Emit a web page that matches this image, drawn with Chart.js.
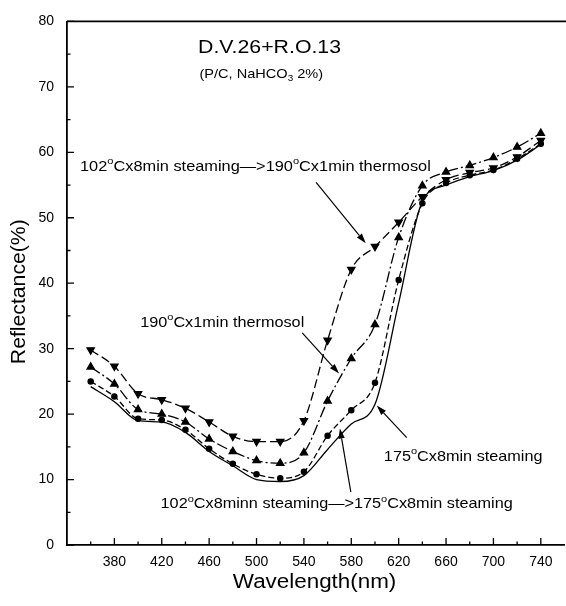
<!DOCTYPE html>
<html><head><meta charset="utf-8">
<script src="https://cdn.jsdelivr.net/npm/chart.js@4.4.1/dist/chart.umd.min.js"></script>
<style>
html,body{margin:0;padding:0;background:#fff;overflow:hidden;width:566px;height:606px}
#wrap{width:570px;height:606px}
</style></head>
<body><div id="wrap"><canvas id="c" width="570" height="606"></canvas></div>
<script>
// ---- data ----
const wavelengths = [360,380,400,420,440,460,480,500,520,540,560,580,600,620,640,660,680,700,720,740];
// 102°C x 8min steaming -> 190°C x 1min thermosol (inverted triangles)
const steamThermosol = [29.8,27.3,23.1,22.2,20.9,18.8,16.6,15.8,15.8,19.0,31.3,42.1,45.6,49.3,53.2,55.8,56.9,57.6,59.3,61.8];
// 190°C x 1min thermosol (triangles)
const thermosol = [27.2,24.6,20.7,20.0,18.8,16.2,14.3,12.9,12.5,14.1,22.0,28.5,33.7,47.0,54.9,57.0,58.0,59.2,60.8,62.9];
// 102°C x 8minn steaming -> 175°C x 8min steaming (dots)
const steamSteam = [25.0,22.7,19.3,19.1,17.6,14.7,12.4,10.8,10.2,11.2,16.7,20.6,24.8,40.5,52.2,55.3,56.5,57.3,59.0,61.3];
// 175°C x 8min steaming (solid line)
const steam175 = [24.2,21.9,19.0,18.8,17.2,14.3,12.1,10.0,9.7,10.6,14.6,18.5,21.5,37.0,52.5,55.0,56.3,57.2,58.8,61.2];

const xTickValues = [380,420,460,500,540,580,620,660,700,740];
const xMinorValues = [360,400,440,480,520,560,600,640,680,720];
const yTickValues = [0,10,20,30,40,50,60,70,80];
const yMinorValues = [5,15,25,35,45,55,65,75];

const chartTitle = 'D.V.26+R.O.13';
const xTitle = 'Wavelength(nm)';
const yTitle = 'Reflectance(%)';

// ---- annotations (anchored in data units) ----
const FONT = '"Liberation Sans", Arial, sans-serif';
const STRETCH = 1.12;
const texts = [
  {segs:[[chartTitle]], x:511, y:76.0, size:19, align:'center'},
  {segs:[['(P/C, NaHCO'],['3','sub'],[' 2%)']], x:504, y:71.9, size:13, align:'center'},
  {segs:[['102'],['o','sup'],['Cx8min steaming—>190'],['o','sup'],['Cx1min thermosol']], x:351, y:57.8, size:14.6, align:'left'},
  {segs:[['190'],['o','sup'],['Cx1min thermosol']], x:540.3, y:33.9, size:14.5, align:'right'},
  {segs:[['175'],['o','sup'],['Cx8min steaming']], x:607.5, y:13.5, size:14.5, align:'left'},
  {segs:[['102'],['o','sup'],['Cx8minn steaming—>175'],['o','sup'],['Cx8min steaming']], x:419, y:6.2, size:14.5, align:'left'}
];
const arrows = [
  {from:[550.3,55.4], to:[592.2,46.1]},
  {from:[538.6,32.4], to:[569.7,26.2]},
  {from:[626.8,16.4], to:[601.5,21.3]},
  {from:[579.6,8.1], to:[570.4,17.8]}
];

function pts(arr){ return wavelengths.map((w,i)=>({x:w, y:arr[i]})); }

function segWidth(ctx, segs, size){
  let w = 0;
  for (const s of segs){
    const fs = s[1] ? size*0.68 : size;
    ctx.font = fs + 'px ' + FONT;
    w += ctx.measureText(s[0]).width;
  }
  return w;
}
function drawRich(ctx, segs, px, py, size, align){
  ctx.save();
  ctx.translate(px, py);
  ctx.scale(STRETCH, 1);
  const w = segWidth(ctx, segs, size);
  let cx = align==='center' ? -w/2 : align==='right' ? -w : 0;
  ctx.textBaseline = 'middle';
  ctx.textAlign = 'left';
  ctx.fillStyle = '#000';
  for (const s of segs){
    let fs = size, dy = 0;
    if (s[1]==='sup'){ fs = size*0.68; dy = -size*0.38; }
    if (s[1]==='sub'){ fs = size*0.68; dy = size*0.3; }
    ctx.font = fs + 'px ' + FONT;
    ctx.fillText(s[0], cx, dy);
    cx += ctx.measureText(s[0]).width;
  }
  ctx.restore();
}

const deco = {
  id:'deco',
  afterDraw(chart){
    const ctx = chart.ctx, a = chart.chartArea, xs = chart.scales.x, ys = chart.scales.y;
    ctx.save();
    ctx.strokeStyle = '#000';
    ctx.lineWidth = 1.6;
    // top border
    ctx.beginPath(); ctx.moveTo(a.left, a.top); ctx.lineTo(a.right+4, a.top); ctx.stroke();
    // inward ticks
    ctx.lineWidth = 1.3;
    ctx.beginPath();
    for (const v of xTickValues){ const p = xs.getPixelForValue(v); ctx.moveTo(p, a.bottom); ctx.lineTo(p, a.bottom-7); }
    for (const v of xMinorValues){ const p = xs.getPixelForValue(v); ctx.moveTo(p, a.bottom); ctx.lineTo(p, a.bottom-3.5); }
    for (const v of yTickValues){ const p = ys.getPixelForValue(v); ctx.moveTo(a.left, p); ctx.lineTo(a.left+7, p); }
    for (const v of yMinorValues){ const p = ys.getPixelForValue(v); ctx.moveTo(a.left, p); ctx.lineTo(a.left+3.5, p); }
    ctx.stroke();
    // arrows
    ctx.lineWidth = 1.2;
    ctx.fillStyle = '#000';
    for (const ar of arrows){
      const x1 = xs.getPixelForValue(ar.from[0]), y1 = ys.getPixelForValue(ar.from[1]);
      const x2 = xs.getPixelForValue(ar.to[0]), y2 = ys.getPixelForValue(ar.to[1]);
      const ang = Math.atan2(y2-y1, x2-x1), L = 10, W = 3.2;
      const bx = x2 - L*Math.cos(ang), by = y2 - L*Math.sin(ang);
      ctx.beginPath(); ctx.moveTo(x1,y1); ctx.lineTo(bx,by); ctx.stroke();
      ctx.beginPath();
      ctx.moveTo(x2,y2);
      ctx.lineTo(bx + W*Math.sin(ang), by - W*Math.cos(ang));
      ctx.lineTo(bx - W*Math.sin(ang), by + W*Math.cos(ang));
      ctx.closePath(); ctx.fill();
    }
    // texts
    for (const t of texts){
      drawRich(ctx, t.segs, xs.getPixelForValue(t.x), ys.getPixelForValue(t.y), t.size, t.align);
    }
    // axis titles
    drawRich(ctx, [[xTitle]], xs.getPixelForValue(549), a.bottom + 37, 20, 'center');
    ctx.save();
    ctx.translate(19.5, ys.getPixelForValue(38.7));
    ctx.rotate(-Math.PI/2);
    ctx.font = '20px ' + FONT;
    ctx.textAlign = 'center'; ctx.textBaseline = 'middle'; ctx.fillStyle = '#000';
    ctx.scale(1.06,1);
    ctx.fillText(yTitle, 0, 0);
    ctx.restore();
    ctx.restore();
  }
};

const common = {borderColor:'#000', backgroundColor:'#000', borderWidth:1.3, fill:false,
  cubicInterpolationMode:'monotone', pointBorderColor:'#000', pointBackgroundColor:'#000'};

new Chart(document.getElementById('c'), {
  type:'line',
  data:{ datasets:[
    Object.assign({label:'102°Cx8min steaming→190°Cx1min thermosol', data:pts(steamThermosol),
      borderDash:[9,4], pointStyle:'triangle', rotation:180, pointRadius:4.2}, common),
    Object.assign({label:'190°Cx1min thermosol', data:pts(thermosol),
      borderDash:[11,3,2,3], pointStyle:'triangle', pointRadius:4.2}, common),
    Object.assign({label:'102°Cx8minn steaming→175°Cx8min steaming', data:pts(steamSteam),
      borderDash:[6,3], pointStyle:'circle', pointRadius:2.6}, common),
    Object.assign({label:'175°Cx8min steaming', data:pts(steam175),
      pointRadius:0}, common)
  ]},
  options:{
    responsive:false, animation:false, devicePixelRatio:1,
    layout:{padding:{left:0, top:18, right:3, bottom:0}},
    plugins:{legend:{display:false}, tooltip:{enabled:false}},
    scales:{
      x:{type:'linear', min:340, max:760,
        afterBuildTicks(s){ s.ticks = xTickValues.map(v=>({value:v})); },
        afterFit(s){ s.height = 61; },
        grid:{display:false, drawTicks:false},
        border:{display:true, color:'#000', width:1.8},
        ticks:{color:'#000', font:{family:FONT, size:14}, padding:9, maxRotation:0, autoSkip:false}
      },
      y:{min:0, max:80,
        afterBuildTicks(s){ s.ticks = yTickValues.map(v=>({value:v})); },
        afterFit(s){ s.width = 67; },
        grid:{display:false, drawTicks:false},
        border:{display:true, color:'#000', width:1.8},
        ticks:{color:'#000', font:{family:FONT, size:14}, padding:13}
      }
    }
  },
  plugins:[deco]
});
</script>
</body></html>
